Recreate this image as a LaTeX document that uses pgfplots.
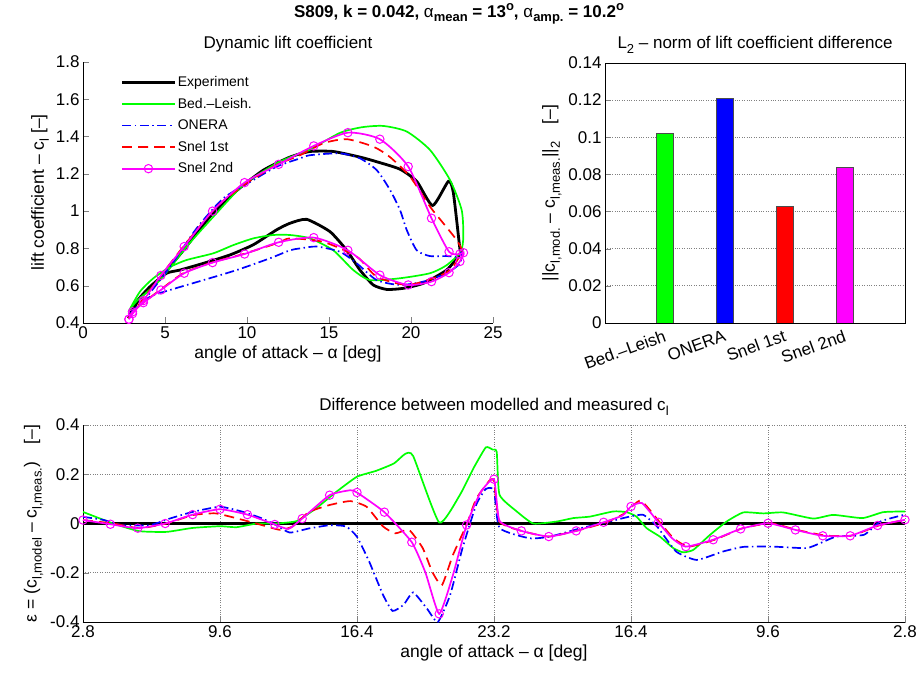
\documentclass[border=0pt]{standalone}
\usepackage{pgfplots}
\pgfplotsset{compat=1.18}
\usepackage{fontspec}
\setmainfont{Liberation Sans}
\newcommand{\sub}[1]{\raisebox{-0.55ex}{\fontsize{13}{13}\selectfont #1}}
\newcommand{\supo}{\raisebox{0.75ex}{\fontsize{13}{13}\selectfont o}}
\definecolor{mgreen}{rgb}{0,1,0}
\definecolor{mmag}{rgb}{1,0,1}
\tikzset{
  expstyle/.style={black, line width=2.8pt},
  blstyle/.style={mgreen, line width=1.7pt},
  onstyle/.style={blue, line width=1.7pt, dash pattern=on 9pt off 3.5pt on 1.5pt off 3.5pt},
  s1style/.style={red, line width=1.7pt, dash pattern=on 10pt off 6pt},
  s2style/.style={mmag, line width=1.7pt},
}
\pgfplotsset{
  myaxis/.style={
    scale only axis,
    font=\fontsize{17}{20}\selectfont,
    tick label style={font=\fontsize{17}{20}\selectfont},
    label style={font=\fontsize{17.5}{20}\selectfont},
    title style={font=\fontsize{17}{20}\selectfont},
    /pgf/number format/assume math mode=true,
    /pgf/number format/fixed,
    tick align=inside,
    major tick length=6pt,
    minor tick length=3pt,
    axis line style={-},
  },
}
\begin{document}
\begin{tikzpicture}
\path[use as bounding box] (0pt,0pt) rectangle (919pt,673pt);
\node[font=\bfseries\fontsize{17}{20}\selectfont] at (459pt,659pt) {S809, k = 0.042, {\mdseries α}\sub{mean} = 13\supo, {\mdseries α}\sub{amp.} = 10.2\supo};

% ---------------- top left: hysteresis loops
\begin{axis}[myaxis, at={(83pt,350pt)}, anchor=south west, width=410pt, height=261pt,
  xmin=0, xmax=25, ymin=0.4, ymax=1.8,
  xtick={0,5,10,15,20,25}, ytick={0.4,0.6,0.8,1,1.2,1.4,1.6,1.8},
  axis lines*=left,
  title={Dynamic lift coefficient},
  xlabel={angle of attack -- α [deg]},
  ylabel={lift coefficient -- c\sub{l} [--]},
  legend style={draw=none, fill=none, at={(0.085,0.96)}, anchor=north west,
    legend cell align=left, font=\fontsize{14}{16}\selectfont, row sep=6pt},
  legend image code/.code={\draw[mark repeat=2,mark phase=2,#1] plot coordinates {(0pt,0pt) (26pt,0pt) (52pt,0pt)};},
]
\addplot[expstyle, smooth, tension=0.35] coordinates {
(2.77,0.425)(3.47,0.533)(4.70,0.64)(6.12,0.79)(7.74,0.97)(9.37,1.11)(11.0,1.22)(12.62,1.29)(13.84,1.32)(15.26,1.32)(16.89,1.29)(17.91,1.265)(19.33,1.225)(20.35,1.16)(21.32,1.03)(22.28,1.16)(22.58,1.10)(22.99,0.79)(23.03,0.774)
(22.17,0.684)(20.75,0.613)(19.53,0.586)(18.52,0.58)(17.70,0.604)(16.89,0.684)(16.08,0.79)(15.06,0.89)(13.64,0.956)(12.62,0.935)(11.81,0.90)(10.39,0.82)(8.96,0.765)(7.34,0.72)(5.91,0.684)(5.10,0.667)(4.09,0.595)(3.27,0.514)(2.77,0.425)};
\addlegendentry{Experiment}
\addplot[blstyle, smooth, tension=0.4] coordinates {
(2.77,0.46)(3.3,0.52)(4.70,0.63)(6.32,0.81)(7.95,0.97)(9.77,1.14)(11.81,1.257)(13.23,1.31)(13.84,1.33)(15.67,1.42)(17.0,1.45)(18.31,1.457)(19.74,1.427)(21.16,1.328)(22.38,1.167)(23.09,1.006)(23.19,0.863)(23.03,0.782)
(22.17,0.71)(21.16,0.667)(19.33,0.64)(17.5,0.63)(16.48,0.684)(15.26,0.79)(13.84,0.854)(12.62,0.872)(11.6,0.872)(10.39,0.854)(9.17,0.818)(7.95,0.774)(6.32,0.738)(5.30,0.70)(4.29,0.64)(3.47,0.568)(2.77,0.46)};
\addlegendentry{Bed.--Leish.}
\addplot[onstyle, smooth, tension=0.4] coordinates {
(2.77,0.435)(3.88,0.54)(5.30,0.70)(6.93,0.908)(8.56,1.069)(10.39,1.167)(11.81,1.239)(13.23,1.283)(13.84,1.30)(15.67,1.31)(16.89,1.283)(17.91,1.22)(18.72,1.114)(19.33,1.006)(19.74,0.899)(20.35,0.79)(21.16,0.759)(22.17,0.759)(22.89,0.756)(23.09,0.782)
(22.99,0.72)(22.17,0.667)(20.75,0.622)(19.33,0.604)(17.91,0.63)(16.69,0.72)(15.67,0.782)(14.25,0.81)(13.23,0.80)(12.62,0.79)(11.4,0.747)(9.37,0.684)(7.34,0.63)(5.30,0.577)(4.09,0.541)(3.07,0.47)(2.77,0.435)};
\addlegendentry{ONERA}
\addplot[s1style, smooth, tension=0.4] coordinates {
(2.77,0.425)(4.09,0.577)(6.12,0.81)(8.15,1.024)(9.98,1.15)(11.81,1.248)(13.23,1.30)(14.65,1.364)(16.08,1.386)(17.70,1.346)(18.72,1.29)(19.94,1.185)(21.16,1.024)(21.97,0.935)(22.78,0.845)(23.09,0.782)
(22.38,0.684)(21.36,0.64)(19.74,0.604)(17.91,0.648)(16.69,0.756)(14.65,0.835)(12.62,0.854)(11.91,0.83)(9.77,0.77)(7.84,0.724)(6.12,0.667)(4.70,0.577)(3.68,0.509)(3.02,0.46)(2.77,0.425)};
\addlegendentry{Snel 1st}
\addplot[s2style, smooth, tension=0.4, mark=o, mark size=4.2pt, mark options={solid, line width=1pt}] coordinates {
(2.8,0.42)(3.02,0.45)(3.68,0.52)(4.75,0.655)(6.17,0.81)(7.9,1.0)(9.85,1.153)(11.93,1.251)(14.07,1.35)(16.15,1.421)(18.1,1.386)(19.83,1.239)(21.25,0.962)(22.32,0.782)(22.98,0.77)(23.2,0.777)
(22.98,0.73)(22.32,0.67)(21.25,0.622)(19.83,0.604)(18.1,0.657)(16.15,0.79)(14.07,0.858)(11.93,0.833)(9.85,0.77)(7.9,0.724)(6.17,0.667)(4.75,0.577)(3.68,0.509)(3.02,0.46)(2.8,0.42)};
\addlegendentry{Snel 2nd}
\end{axis}

% ---------------- top right: bars
\begin{axis}[myaxis, at={(605pt,350pt)}, anchor=south west, width=300pt, height=260pt,
  xmin=0, xmax=5, ymin=0, ymax=0.14,
  ytick={0,0.02,0.04,0.06,0.08,0.1,0.12,0.14},
  scaled y ticks=false,
  yticklabel style={/pgf/number format/fixed, /pgf/number format/precision=2},
  xtick={1,2,3,4}, xticklabels={Bed.--Leish, ONERA, Snel 1st, Snel 2nd},
  xticklabel style={rotate=20, anchor=north east, xshift=-3pt, yshift=-4pt, inner sep=1pt},
  xtick pos=bottom, ytick pos=left,
  ymajorgrids, grid style={dotted, gray, line width=0.8pt},
  title={L\sub{2} -- norm of lift coefficient difference},
  ylabel={||c\sub{l,mod.} -- c\sub{l,meas.}||\sub{2}\quad[--]},
]
\addplot[ybar, bar width=17pt, bar shift=0pt, fill=mgreen, draw=black!70] coordinates {(1,0.102)};
\addplot[ybar, bar width=17pt, bar shift=0pt, fill=blue, draw=black!70] coordinates {(2,0.121)};
\addplot[ybar, bar width=17pt, bar shift=0pt, fill=red, draw=black!70] coordinates {(3,0.063)};
\addplot[ybar, bar width=17pt, bar shift=0pt, fill=mmag, draw=black!70] coordinates {(4,0.084)};
\end{axis}

% ---------------- bottom: differences
\begin{axis}[myaxis, at={(83pt,51pt)}, anchor=south west, width=822pt, height=197pt,
  xmin=0, xmax=6, ymin=-0.4, ymax=0.4,
  xtick={0,1,2,3,4,5,6}, xticklabels={2.8,9.6,16.4,23.2,16.4,9.6,2.8},
  ytick={-0.4,-0.2,0,0.2,0.4},
  axis lines*=left,
  grid=major, grid style={dotted, gray, line width=0.8pt},
  title={Difference between modelled and measured c\sub{l}},
  xlabel={angle of attack -- α [deg]},
  ylabel={ε = (c\sub{l,model} -- c\sub{l,meas.})\quad[--]},
]
\addplot[black, line width=3.8pt] coordinates {(0,0)(6,0)};
\addplot[blstyle, smooth, tension=0.3] coordinates {
(0,0.047)(0.22,0)(0.41,-0.031)(0.61,-0.034)(0.80,-0.018)(1.0,-0.011)(1.12,-0.015)(1.27,0)(1.41,0)(1.56,0.01)(1.70,0.061)(1.85,0.129)(2.0,0.19)(2.14,0.214)(2.27,0.244)(2.35,0.282)(2.41,0.274)(2.60,0.004)(2.75,0.115)(2.85,0.224)(2.94,0.309)(2.99,0.30)(3.02,0.29)(3.04,0.117)(3.166,0.049)(3.287,0.0)(3.457,0.008)(3.579,0.022)(3.70,0.028)(3.871,0.049)(3.968,0.046)(4.04,0.028)(4.114,-0.019)(4.21,-0.053)(4.309,-0.1)(4.38,-0.117)(4.455,-0.107)(4.577,-0.046)(4.698,0.008)(4.82,0.045)(4.966,0.041)(5.11,0.045)(5.33,0.02)(5.476,0.035)(5.69,0.022)(5.84,0.046)(5.99,0.049)(6,0.049)};
\addplot[onstyle, smooth, tension=0.3] coordinates {
(0,0.027)(0.146,0.015)(0.29,-0.007)(0.487,-0.007)(0.633,0.02)(0.80,0.047)(1.0,0.068)(1.17,0.047)(1.31,0.02)(1.41,-0.007)(1.51,-0.037)(1.65,-0.02)(1.80,-0.007)(1.92,-0.012)(2.0,-0.054)(2.09,-0.156)(2.19,-0.29)(2.26,-0.355)(2.34,-0.33)(2.41,-0.28)(2.51,-0.345)(2.59,-0.40)(2.68,-0.29)(2.77,-0.10)(2.87,0.076)(2.94,0.14)(3.0,0.136)(3.04,-0.018)(3.26,-0.06)(3.41,-0.053)(3.635,-0.019)(3.82,0.005)(3.99,0.028)(4.09,0.035)(4.19,-0.012)(4.33,-0.114)(4.48,-0.148)(4.67,-0.114)(4.82,-0.095)(5.04,-0.094)(5.28,-0.1)(5.38,-0.08)(5.50,-0.053)(5.70,-0.046)(5.82,0.008)(5.99,0.035)(6,0.035)};
\addplot[s1style, smooth, tension=0.3] coordinates {
(0,0.014)(0.22,0)(0.41,-0.019)(0.61,0)(0.8,0.034)(0.97,0.041)(1.17,0.014)(1.31,-0.007)(1.44,-0.026)(1.53,-0.012)(1.65,0.047)(1.8,0.075)(1.95,0.091)(2.07,0.068)(2.19,-0.012)(2.28,-0.04)(2.38,-0.026)(2.48,-0.1)(2.55,-0.197)(2.62,-0.25)(2.7,-0.128)(2.8,-0.005)(2.87,0.1)(2.97,0.176)(3.0,0.17)(3.04,0.008)(3.2,-0.03)(3.4,-0.053)(3.62,-0.027)(3.82,0.005)(3.95,0.04)(4.07,0.093)(4.21,0.005)(4.31,-0.06)(4.42,-0.094)(4.61,-0.066)(4.81,-0.02)(5.02,0.001)(5.21,-0.026)(5.42,-0.049)(5.61,-0.049)(5.81,-0.008)(6.0,0.015)};
\addplot[s2style, smooth, tension=0.3] coordinates {
(0,0.014)(0.2,-0.003)(0.4,-0.019)(0.6,0.0)(0.8,0.036)(1.0,0.058)(1.2,0.036)(1.4,-0.004)(1.5,-0.022)(1.6,0.02)(1.8,0.115)(1.95,0.135)(2.0,0.126)(2.2,0.046)(2.4,-0.076)(2.5,-0.2)(2.6,-0.367)(2.7,-0.21)(2.8,-0.006)(2.9,0.125)(3.0,0.18)(3.04,0.011)(3.2,-0.03)(3.4,-0.053)(3.6,-0.03)(3.8,0.005)(3.94,0.033)(4.0,0.069)(4.08,0.083)(4.2,0.005)(4.3,-0.06)(4.4,-0.094)(4.6,-0.066)(4.8,-0.022)(5.0,0.001)(5.2,-0.026)(5.4,-0.05)(5.6,-0.05)(5.8,-0.008)(6.0,0.015)};
\addplot[mmag, only marks, mark=o, mark size=4.2pt, mark options={line width=1pt}] coordinates {
(0,0.014)(0.2,-0.003)(0.4,-0.019)(0.6,0.0)(0.8,0.036)(1.0,0.058)(1.2,0.036)(1.4,-0.004)(1.6,0.02)(1.8,0.115)(2.0,0.126)(2.2,0.046)(2.4,-0.076)(2.6,-0.367)(2.8,-0.006)(3.0,0.18)(3.2,-0.03)(3.4,-0.053)(3.6,-0.03)(3.8,0.005)(4.0,0.069)(4.2,0.005)(4.4,-0.094)(4.6,-0.066)(4.8,-0.022)(5.0,0.001)(5.2,-0.026)(5.4,-0.05)(5.6,-0.05)(5.8,-0.008)(6.0,0.015)};
\end{axis}
\end{tikzpicture}
\end{document}
